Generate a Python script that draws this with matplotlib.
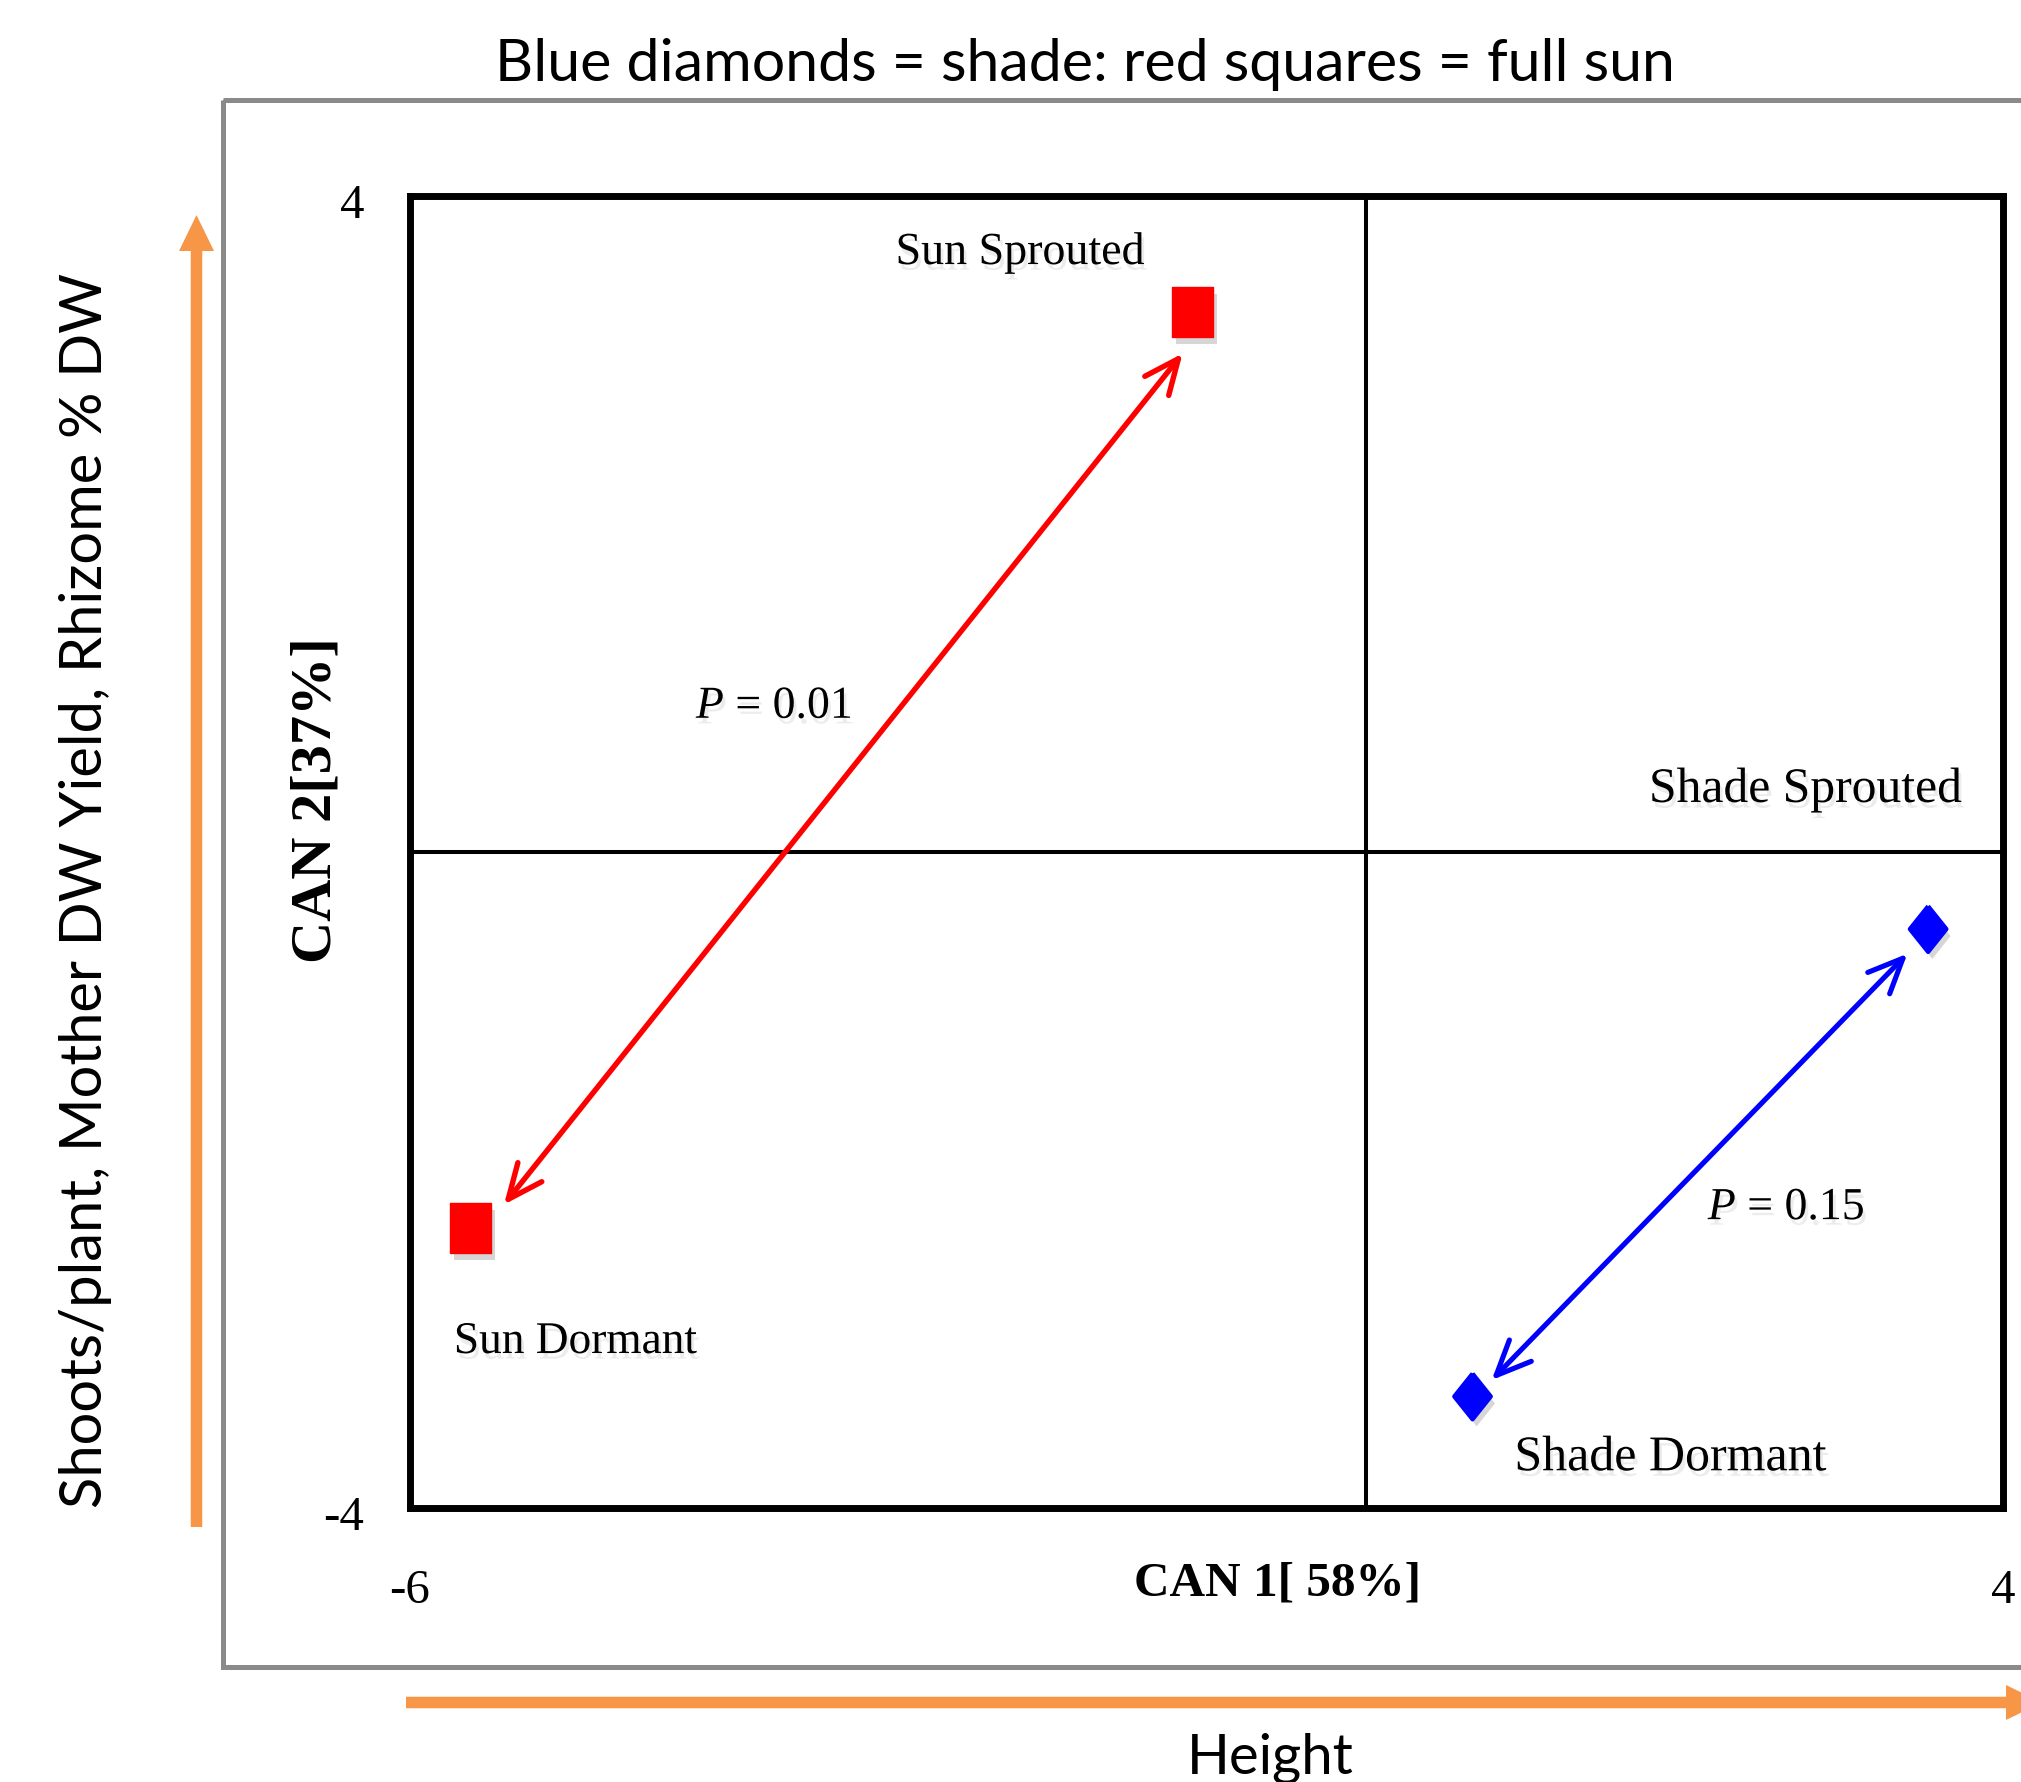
import matplotlib
matplotlib.use("Agg")
import matplotlib.pyplot as plt
import matplotlib.patheffects as pe
from matplotlib.patches import FancyArrow, Rectangle
from matplotlib.transforms import ScaledTranslation

# ---------------- data ----------------
groups = ["Sun Sprouted", "Sun Dormant", "Shade Sprouted", "Shade Dormant"]
can1 = [-1.09, -5.62, 3.53, 0.67]
can2 = [3.29, -2.29, -0.47, -3.32]

sun_arrow_x = [-5.41, -1.15]
sun_arrow_y = [-2.15, 3.04]
shade_arrow_x = [0.79, 3.40]
shade_arrow_y = [-3.22, -0.62]
p_values = ["0.01", "0.15"]

xticks = [-6, 4]
yticks = [-4, 4]

title = "Blue diamonds = shade: red squares = full sun"
ylabel_outer = "Shoots/plant, Mother DW Yield, Rhizome % DW"
xlabel_outer = "Height"
can1_label = "CAN 1[ 58%]"
can2_label = "CAN 2[37%]"

# ---------------- figure ----------------
W, H = 2021, 1782
fig = plt.figure(figsize=(W / 100, H / 100), dpi=100)
plt.rcParams["mathtext.fontset"] = "custom"
plt.rcParams["mathtext.it"] = "Liberation Serif:italic"
plt.rcParams["mathtext.rm"] = "Liberation Serif"

SERIF = "Liberation Serif"
SANS = "Lato"
ORANGE = "#F79646"
GRAY = "#8a8a8a"

bg = fig.add_axes([0, 0, 1, 1])
bg.set_xlim(0, W)
bg.set_ylim(H, 0)
bg.axis("off")
bg.set_zorder(0)

# outer gray frame (extends past right edge)
bg.add_patch(Rectangle((223, 100), 1900, 1567, fill=False, ec=GRAY, lw=3.6))

# orange arrows
bg.add_patch(FancyArrow(196.5, 1527, 0, -1312, width=11.5, head_width=35,
                        head_length=36, length_includes_head=True,
                        color=ORANGE, lw=0))
bg.add_patch(FancyArrow(406, 1702.5, 1636, 0, width=11.5, head_width=35,
                        head_length=36, length_includes_head=True,
                        color=ORANGE, lw=0))

ax = fig.add_axes([410 / W, 1 - 1508 / H, (2003 - 410) / W, (1508 - 196) / H])
ax.set_zorder(1)
ax.set_xlim(-6, 4)
ax.set_ylim(-4, 4)
for s in ax.spines.values():
    s.set_linewidth(5)
    s.set_color("black")
ax.axvline(0, color="black", lw=2.9, zorder=1)
ax.axhline(0, color="black", lw=2.9, zorder=1)

fig.canvas.draw()
r = fig.canvas.get_renderer()


def size_for(s, target, vertical=False, **kw):
    t = fig.text(0, 0, s, fontsize=100, **kw)
    bb = t.get_window_extent(r)
    t.remove()
    return 100 * target / (bb.height if vertical else bb.width)


tick_size = size_for("-6", 37, family=SERIF) * 1.1
ax.set_xticks(xticks, labels=[str(v) for v in xticks])
ax.set_yticks(yticks, labels=[str(v) for v in yticks])
ax.tick_params(length=0, labelsize=tick_size)
ax.tick_params(axis="y", pad=33)
ax.tick_params(axis="x", pad=44)
for lab in ax.get_xticklabels() + ax.get_yticklabels():
    lab.set_family(SERIF)
down = ScaledTranslation(0, -0.05, fig.dpi_scale_trans)
for lab in ax.get_yticklabels():
    lab.set_transform(lab.get_transform() + down)

shadow = [pe.SimplePatchShadow(offset=(3, -5), shadow_rgbFace="0.55", alpha=0.35),
          pe.Normal()]
tshadow = [pe.SimplePatchShadow(offset=(2, -4), shadow_rgbFace="0.6", alpha=0.18),
           pe.Normal()]

square = [(-0.82, -1), (0.82, -1), (0.82, 1), (-0.82, 1), (-0.82, -1)]
diamond = [(0, 1), (0.8, 0), (0, -1), (-0.8, 0), (0, 1)]

ax.plot(can1[:2], can2[:2], ls="none", marker=square, ms=36, color="#ff0000",
        mec="#ff0000", zorder=4, path_effects=shadow)
ax.plot(can1[2:], can2[2:], ls="none", marker=diamond, ms=33, color="#0000ff",
        mec="#0000ff", mew=3, zorder=4, path_effects=shadow)

ax.annotate("", xy=(sun_arrow_x[1], sun_arrow_y[1]),
            xytext=(sun_arrow_x[0], sun_arrow_y[0]),
            arrowprops=dict(arrowstyle="<->,head_length=1.25,head_width=0.55",
                            color="#ff0000", lw=3.9, shrinkA=0, shrinkB=0,
                            mutation_scale=20), zorder=3)
ax.annotate("", xy=(shade_arrow_x[1], shade_arrow_y[1]),
            xytext=(shade_arrow_x[0], shade_arrow_y[0]),
            arrowprops=dict(arrowstyle="<->,head_length=1.25,head_width=0.55",
                            color="#0000ff", lw=3.7, shrinkA=0, shrinkB=0,
                            mutation_scale=20), zorder=3)

label_widths = [249, 243, 313, 312]
label_pos = [(-2.17, 3.585), (-4.96, -3.055), (2.76, 0.305), (1.91, -3.77)]
for g, w, (lx, ly) in zip(groups, label_widths, label_pos):
    ax.text(lx, ly, g, ha="center", va="baseline", family=SERIF,
            fontsize=size_for(g, w, family=SERIF), path_effects=tshadow, zorder=5)

p_size = size_for("$P$ = 0.01", 155, family=SERIF)
p_pos = [(-3.715, 0.817), (2.64, -2.24)]
for pv, (px, py) in zip(p_values, p_pos):
    ax.text(px, py, "$P$ = " + pv, ha="center", va="baseline", family=SERIF,
            fontsize=p_size, path_effects=tshadow, zorder=5)

# axis labels of the canonical plot
bg.text(1278, 1595, can1_label, ha="center", va="baseline", family=SERIF,
        weight="bold", fontsize=size_for(can1_label, 287, family=SERIF, weight="bold"))
bg.text(316, 800, can2_label, ha="center", va="center", rotation=90, family=SERIF,
        weight="bold", fontsize=size_for(can2_label, 326, family=SERIF, weight="bold"))

# outer texts
bg.text(1085, 81, title, ha="center", va="baseline", family=SANS,
        fontsize=size_for(title, 1182, family=SANS))
bg.text(86, 890, ylabel_outer, ha="center", va="center", rotation=90, family=SANS,
        fontsize=size_for(ylabel_outer, 1235, family=SANS))
bg.text(1270, 1773, xlabel_outer, ha="center", va="baseline", family=SANS,
        fontsize=size_for(xlabel_outer, 167, family=SANS))

fig.savefig("out.png", dpi=100, facecolor="white")
